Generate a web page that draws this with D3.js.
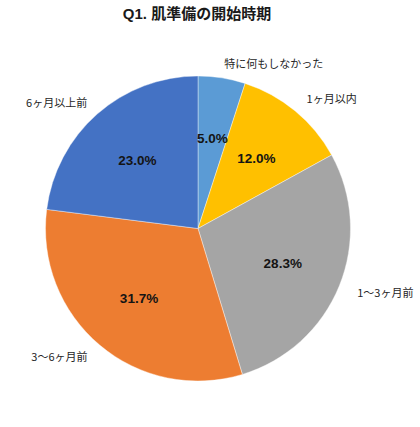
<!DOCTYPE html>
<html>
<head>
<meta charset="utf-8">
<script src="https://cdn.jsdelivr.net/npm/d3@7"></script>
<style>
  body { margin: 0; background: #fff; }
</style>
</head>
<body>
<div id="chart-area"></div>
<script>
//============================DATA============================
var categories = ["特に何もしなかった", "1ヶ月以内", "1～3ヶ月前", "3～6ヶ月前", "6ヶ月以上前"];
var values = [5.0, 12.0, 28.3, 31.7, 23.0];
var colors = ["#5B9BD5", "#FFC000", "#A5A5A5", "#ED7D31", "#4472C4"];

// outer label placement: angle shift (deg) from slice middle, radius factor of pie radius
var labelShift = [15.7, 6.3, -3, 7, -7];
var labelRadius = [1.19, 1.22, 1.30, 1.24, 1.24];

//============================LAYOUT============================
var width = 420, height = 427;
var cx = 198, cy = 228.5, radius = 152.5;

var svg = d3.select("#chart-area")
    .append("svg")
    .attr("width", width)
    .attr("height", height);

// Title
svg.append("text")
    .attr("x", 197)
    .attr("y", 19)
    .attr("text-anchor", "middle")
    .attr("font-size", "15px")
    .attr("font-weight", "bold")
    .attr("font-family", "'Liberation Sans', 'Noto Sans CJK JP', sans-serif")
    .attr("fill", "#1a1a1a")
    .text("Q1. 肌準備の開始時期");

var g = svg.append("g")
    .attr("transform", "translate(" + cx + ", " + cy + ")");

var pie = d3.pie().sort(null).value(function(d){ return d; });
var arcs = pie(values);

var arc = d3.arc().innerRadius(0).outerRadius(radius);
var inner = d3.arc().innerRadius(radius * 0.6).outerRadius(radius * 0.6);

// slices
g.selectAll("path")
    .data(arcs)
    .enter()
    .append("path")
    .attr("d", arc)
    .attr("fill", function(d, i){ return colors[i]; })
    .attr("stroke", "#fff")
    .attr("stroke-width", 0.4);

// percent labels
g.selectAll("text.pct")
    .data(arcs)
    .enter()
    .append("text")
    .attr("class", "pct")
    .attr("transform", function(d){ return "translate(" + inner.centroid(d) + ")"; })
    .attr("text-anchor", "middle")
    .attr("dy", "0.36em")
    .attr("font-size", "13.5px")
    .attr("font-weight", "bold")
    .attr("font-family", "'Liberation Sans', Arial, sans-serif")
    .attr("fill", "#141414")
    .text(function(d){ return d.value.toFixed(1) + "%"; });

// category labels outside
g.selectAll("text.cat")
    .data(arcs)
    .enter()
    .append("text")
    .attr("class", "cat")
    .attr("transform", function(d, i){
        var a = (d.startAngle + d.endAngle) / 2 + labelShift[i] * Math.PI / 180;
        return "translate(" + d3.pointRadial(a, radius * labelRadius[i]) + ")";
    })
    .attr("text-anchor", "middle")
    .attr("dy", "0.36em")
    .attr("font-size", "11px")
    .attr("font-family", "'Noto Sans CJK JP', sans-serif")
    .attr("fill", "#262626")
    .text(function(d, i){ return categories[i]; });
</script>
</body>
</html>
